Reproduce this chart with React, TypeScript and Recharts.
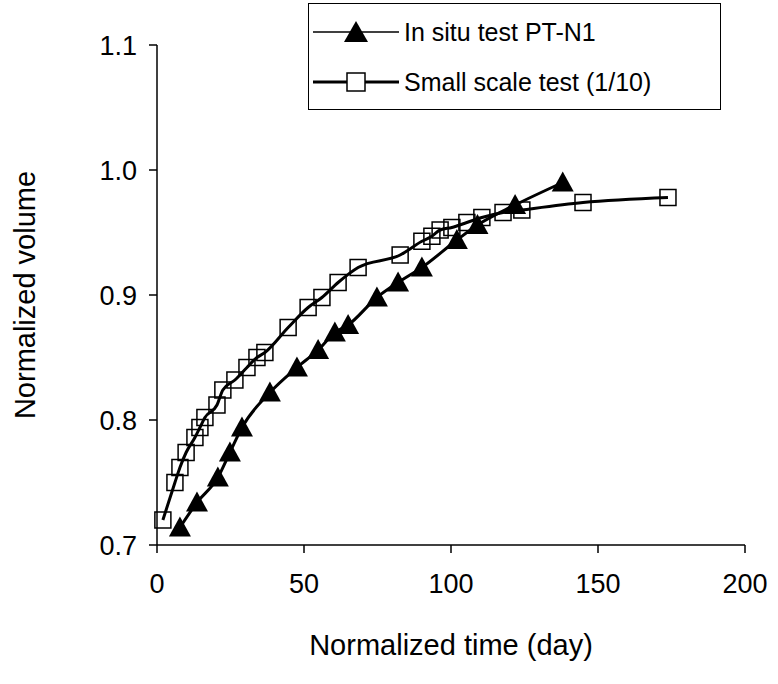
import React from "react";
import { LineChart, Line, XAxis, YAxis } from "recharts";

const xTicks = [0, 50, 100, 150, 200];
const yTicks = [0.7, 0.8, 0.9, 1.0, 1.1];

const insituTime = [7.8, 13.6, 20.7, 24.8, 28.9, 38.4, 47.6, 54.8, 60.5, 65, 74.8, 82, 90.1, 102, 109, 121.8, 138];
const insituVol = [0.714, 0.734, 0.754, 0.774, 0.794, 0.822, 0.842, 0.856, 0.87, 0.876, 0.898, 0.91, 0.922, 0.944, 0.956, 0.972, 0.99];

const smallTime = [2, 6.1, 7.8, 9.9, 12.9, 14.6, 16.3, 20.4, 22.4, 26.5, 30.6, 34, 36.7, 44.6, 51.4, 56.1, 61.6, 68.4, 82.7, 90.1, 93.5, 96.3, 100.3, 105.4, 110.5, 117.7, 124.1, 144.9, 173.8];
const smallVol = [0.72, 0.75, 0.762, 0.774, 0.786, 0.794, 0.802, 0.812, 0.824, 0.832, 0.842, 0.85, 0.854, 0.874, 0.89, 0.898, 0.91, 0.922, 0.932, 0.943, 0.947, 0.952, 0.954, 0.958, 0.962, 0.966, 0.968, 0.974, 0.978];

const insitu = insituTime.map((t, i) => ({ t, v: insituVol[i] }));
const small = smallTime.map((t, i) => ({ t, v: smallVol[i] }));

const font = "'Liberation Sans', Arial, sans-serif";

const Tri = (p: any) => (
  <path d={`M${p.cx},${p.cy - 11} L${p.cx + 11},${p.cy + 9} L${p.cx - 11},${p.cy + 9} Z`} fill="#000" />
);
const Sq = (p: any) => (
  <rect x={p.cx - 8} y={p.cy - 8} width={16} height={16} fill="none" stroke="#000" strokeWidth={1.5} />
);

const XTick = (p: any) => (
  <g>
    <line x1={p.x} x2={p.x} y1={p.y} y2={p.y - 8} stroke="#000" strokeWidth={1.5} />
    <text x={p.x} y={p.y + 40} textAnchor="middle" fontSize={27} fontFamily={font}>{p.payload.value}</text>
  </g>
);
const YTick = (p: any) => (
  <g>
    <line x1={p.x} x2={p.x + 8} y1={p.y} y2={p.y} stroke="#000" strokeWidth={1.5} />
    <text x={p.x - 12} y={p.y + 10} textAnchor="end" fontSize={27} fontFamily={font}>{p.payload.value.toFixed(1)}</text>
  </g>
);

export default function App() {
  return (
    <div style={{ position: "absolute", left: 0, top: 0, width: 778, height: 684, background: "#fff", fontFamily: font }}>
      <LineChart width={778} height={684} margin={{ top: 45, right: 33, bottom: 0, left: 0 }}>
        <XAxis
          type="number"
          dataKey="t"
          domain={[0, 200]}
          ticks={xTicks}
          height={139}
          axisLine={{ stroke: "#000", strokeWidth: 1.5 }}
          tickLine={false}
          tick={<XTick />}
          label={{ value: "Normalized time (day)", position: "insideTop", dy: 84, fontSize: 29, fill: "#000", fontFamily: font }}
        />
        <YAxis
          type="number"
          dataKey="v"
          domain={[0.7, 1.1]}
          ticks={yTicks}
          width={157}
          axisLine={{ stroke: "#000", strokeWidth: 1.5 }}
          tickLine={false}
          tick={<YTick />}
          label={{ value: "Normalized volume", angle: -90, position: "insideLeft", dx: 20, fontSize: 29, fill: "#000", fontFamily: font, style: { textAnchor: "middle" } }}
        />
        <Line data={insitu} dataKey="v" type="monotone" stroke="#000" strokeWidth={3} dot={<Tri />} isAnimationActive={false} />
        <Line data={small} dataKey="v" type="monotone" stroke="#000" strokeWidth={3} dot={<Sq />} isAnimationActive={false} />
      </LineChart>
      <div style={{ position: "absolute", left: 308, top: 3, width: 411, height: 105, border: "1.5px solid #000", background: "#fff" }}>
        <div style={{ display: "flex", alignItems: "center", height: 50, marginTop: 3 }}>
          <svg width={95} height={30}>
            <line x1={4} x2={90} y1={15} y2={15} stroke="#000" strokeWidth={1.5} />
            <path d="M47,4 L59,25 L35,25 Z" fill="#000" />
          </svg>
          <span style={{ fontSize: 25 }}>In situ test PT-N1</span>
        </div>
        <div style={{ display: "flex", alignItems: "center", height: 50 }}>
          <svg width={95} height={30}>
            <line x1={4} x2={90} y1={15} y2={15} stroke="#000" strokeWidth={3} />
            <rect x={38} y={6} width={18} height={18} fill="#fff" stroke="#000" strokeWidth={1.5} />
          </svg>
          <span style={{ fontSize: 25 }}>Small scale test (1/10)</span>
        </div>
      </div>
    </div>
  );
}
